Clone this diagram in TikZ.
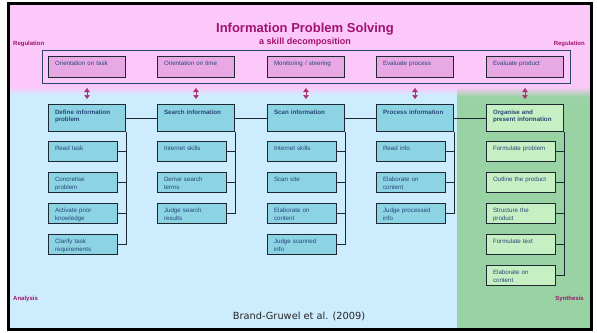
\documentclass[tikz,border=0pt]{standalone}
\usepackage{fontspec}
\setmainfont{Liberation Sans}
\newfontfamily\citefont{DejaVu Sans}
\usetikzlibrary{arrows.meta}
\definecolor{pinkbg}{RGB}{252,200,250}
\definecolor{bluebg}{RGB}{205,236,253}
\definecolor{greenbg}{RGB}{153,210,163}
\definecolor{cyanbox}{RGB}{140,212,228}
\definecolor{greenbox}{RGB}{198,240,196}
\definecolor{regbox}{RGB}{232,168,228}
\definecolor{boxtext}{RGB}{40,70,120}
\definecolor{titlecol}{RGB}{160,18,110}
\definecolor{arrowcol}{RGB}{168,50,110}
\definecolor{framecol}{RGB}{40,70,110}
\definecolor{linecol}{RGB}{30,40,50}

\begin{document}
\begin{tikzpicture}[x=1pt,y=-1pt,
    cell/.style={draw=linecol,line width=1pt,anchor=north west,align=left,
      inner xsep=6.5pt,inner ysep=0pt,text=boxtext,
      font=\fontsize{6.2}{7.7}\selectfont},
    regcell/.style={cell,fill=regbox,text width=64pt,text height=9pt,text depth=12pt},
    head/.style={cell,fill=cyanbox,text width=64pt,text height=10pt,text depth=17pt,
      font=\fontsize{6.2}{7.4}\selectfont\bfseries},
    sub/.style={cell,fill=cyanbox,text width=56pt,text height=9pt,text depth=11pt},
    conn/.style={draw=linecol,line width=0.9pt},
    dbl/.style={arrowcol,line width=0.5pt,
      {Triangle[width=5.5pt,length=4pt]}-{Triangle[width=5.5pt,length=4pt]}},
    sidelabel/.style={text=titlecol,inner sep=0pt,font=\fontsize{6}{7}\selectfont\bfseries}]
  \useasboundingbox (0,0) rectangle (597,332) ;
  % backgrounds
  \fill[pinkbg] (10,5) rectangle (590,87) ;
  \shade[top color=pinkbg,bottom color=bluebg] (10,87) rectangle (457,95) ;
  \shade[top color=pinkbg,bottom color=greenbg] (457,87) rectangle (590,97) ;
  \fill[bluebg] (10,95) rectangle (457,328) ;
  \fill[greenbg] (457,97) rectangle (590,328) ;
  \draw[line width=3pt] (8.5,3.5) rectangle (591.5,329.5) ;
  % title
  \node[text=titlecol,font=\fontsize{13}{15}\selectfont\bfseries,anchor=base] %
  (T) at (305,32.5) {Information Problem Solving} ;
  \node[text=titlecol,font=\fontsize{9}{11}\selectfont\bfseries,anchor=base] %
  (ST) at (305,44) {a skill decomposition} ;
  \node[sidelabel,anchor=base west] (RegL) at (13,45) {Regulation} ;
  \node[sidelabel,anchor=base east] (RegR) at (585,45) {Regulation} ;
  \node[sidelabel,anchor=base west] (An) at (13,300) {Analysis} ;
  \node[sidelabel,anchor=base east] (Syn) at (584,300) {Synthesis} ;
  % regulation
  \draw[framecol,line width=1pt] (42,50) rectangle (570,83) ;
  \node[regcell] (R1) at (48,56) {Orientation on task} ;
  \node[regcell] (R2) at (157,56) {Orientation on time} ;
  \node[regcell] (R3) at (267,56) {Monitoring / steering} ;
  \node[regcell] (R4) at (376,56) {Evaluate process} ;
  \node[regcell] (R5) at (486,56) {Evaluate product} ;
  % skills
  \node[head] (H1) at (48,104) {Define information\\problem} ;
  \node[head] (H2) at (157,104) {Search information} ;
  \node[head] (H3) at (267,104) {Scan information} ;
  \node[head] (H4) at (376,104) {Process information} ;
  \node[head,fill=greenbox] (H5) at (486,104) {Organise and\\present information} ;
  % sub-skills
  \node[sub] (S11) at (48,141) {Read task} ;
  \node[sub] (S12) at (48,172) {Concretise\\problem} ;
  \node[sub] (S13) at (48,203) {Activate prior\\knowledge} ;
  \node[sub] (S14) at (48,234) {Clarify task\\requirements} ;
  \node[sub] (S21) at (157,141) {Internet skills} ;
  \node[sub] (S22) at (157,172) {Derive search\\terms} ;
  \node[sub] (S23) at (157,203) {Judge search\\results} ;
  \node[sub] (S31) at (267,141) {Internet skills} ;
  \node[sub] (S32) at (267,172) {Scan site} ;
  \node[sub] (S33) at (267,203) {Elaborate on\\content} ;
  \node[sub] (S34) at (267,234) {Judge scanned\\info} ;
  \node[sub] (S41) at (376,141) {Read info} ;
  \node[sub] (S42) at (376,172) {Elaborate on\\content} ;
  \node[sub] (S43) at (376,203) {Judge processed\\info} ;
  \node[sub,fill=greenbox] (S51) at (486,141) {Formulate problem} ;
  \node[sub,fill=greenbox] (S52) at (486,172) {Outline the product} ;
  \node[sub,fill=greenbox] (S53) at (486,203) {Structure the\\product} ;
  \node[sub,fill=greenbox] (S54) at (486,234) {Formulate text} ;
  \node[sub,fill=greenbox] (S55) at (486,265) {Elaborate on\\content} ;
  % connectors
  \draw[conn] (H1.east) -- (H2.west) ;
  \draw[conn] (H2.east) -- (H3.west) ;
  \draw[conn] (H3.east) -- (H4.west) ;
  \draw[conn] (H4.east) -- (H5.west) ;
  \draw[conn] (H1.south east) |- (S14.east) ;
  \draw[conn] (H2.south east) |- (S23.east) ;
  \draw[conn] (H3.south east) |- (S34.east) ;
  \draw[conn] (H4.south east) |- (S43.east) ;
  \draw[conn] (H5.south east) |- (S55.east) ;
  \foreach \s in {S11,S12,S13} \draw[conn] (\s.east) -- (\s.east -| H1.east) ;
  \foreach \s in {S21,S22} \draw[conn] (\s.east) -- (\s.east -| H2.east) ;
  \foreach \s in {S31,S32,S33} \draw[conn] (\s.east) -- (\s.east -| H3.east) ;
  \foreach \s in {S41,S42} \draw[conn] (\s.east) -- (\s.east -| H4.east) ;
  \foreach \s in {S51,S52,S53,S54} \draw[conn] (\s.east) -- (\s.east -| H5.east) ;
  \foreach \i in {1,...,5} \draw[dbl] ([yshift=-10pt]R\i.south) -- ([yshift=5pt]H\i.north) ;
  \node[font=\citefont\fontsize{9.8}{11}\selectfont,text=black!85,anchor=base] %
  (C) at (299,319) {Brand-Gruwel et al. (2009)} ;
\end{tikzpicture}
\end{document}
